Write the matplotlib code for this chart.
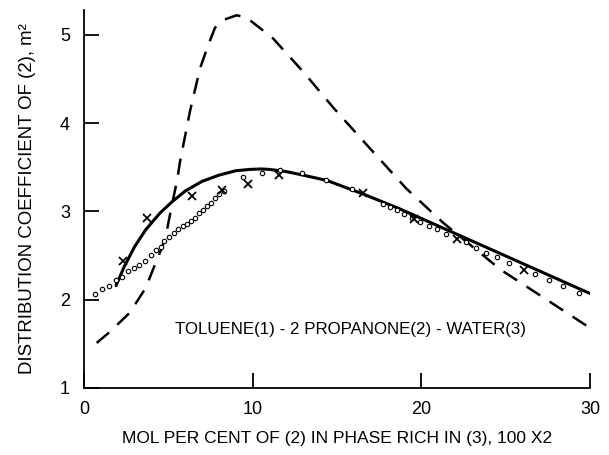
import matplotlib
matplotlib.use("Agg")
import matplotlib.pyplot as plt

# ---- data ----
solid_x = [1.9, 2.4, 3.0, 3.65, 4.5, 5.23, 6.0, 7.0, 8.0, 9.0, 9.84, 10.5, 11.0, 12.0, 13.0, 14.4, 16.5, 18.7, 20.0, 22.0, 24.0, 26.0, 28.0, 30.0]
solid_y = [2.16, 2.38, 2.60, 2.79, 2.98, 3.11, 3.23, 3.34, 3.41, 3.46, 3.475, 3.48, 3.475, 3.45, 3.41, 3.35, 3.20, 3.03, 2.92, 2.75, 2.58, 2.41, 2.24, 2.07]

dash_x = [0.75, 1.5, 2.7, 3.65, 4.15, 4.64, 4.94, 5.23, 5.53, 5.69, 6.28, 6.88, 7.4, 7.77, 8.3, 9.05, 9.6, 10.2, 11.2, 13.0, 14.8, 16.4, 19.1, 21.3, 24.7, 30.0]
dash_y = [1.51, 1.63, 1.85, 2.13, 2.37, 2.60, 2.81, 3.09, 3.36, 3.56, 4.13, 4.62, 4.90, 5.08, 5.17, 5.22, 5.20, 5.11, 4.96, 4.58, 4.17, 3.83, 3.26, 2.87, 2.34, 1.68]

circ_x = [0.63, 1.09, 1.48, 1.92, 2.23, 2.63, 2.96, 3.28, 3.62, 3.95, 4.27, 4.55, 4.74, 5.06, 5.34, 5.59, 5.85, 6.08, 6.32, 6.58, 6.84, 7.07, 7.31, 7.51, 7.77, 8.02, 8.30,
          9.45, 10.53, 11.62, 12.9, 14.35, 15.87, 17.75, 18.14, 18.53, 18.97, 19.42, 19.92, 20.45, 20.95, 21.46,
          22.62, 23.23, 23.86, 24.51, 25.2, 26.73, 27.58, 28.42, 29.37]
circ_y = [2.06, 2.12, 2.15, 2.22, 2.26, 2.33, 2.36, 2.39, 2.44, 2.51, 2.56, 2.60, 2.66, 2.71, 2.75, 2.80, 2.83, 2.86, 2.89, 2.93, 2.98, 3.02, 3.06, 3.10, 3.15, 3.20, 3.23,
          3.39, 3.44, 3.47, 3.43, 3.36, 3.25, 3.08, 3.05, 3.02, 2.97, 2.92, 2.88, 2.83, 2.80, 2.74,
          2.65, 2.59, 2.53, 2.48, 2.41, 2.29, 2.22, 2.16, 2.08]

cross_x = [2.33, 3.75, 6.38, 8.16, 9.74, 11.55, 16.56, 19.56, 22.09, 26.08]
cross_y = [2.44, 2.93, 3.17, 3.24, 3.31, 3.41, 3.21, 2.91, 2.69, 2.34]

x_ticks = [0, 10, 20, 30]
y_ticks = [1, 2, 3, 4, 5]

FONT = ['Liberation Sans Narrow', 'Liberation Sans', 'DejaVu Sans']
plt.rcParams['font.family'] = FONT

fig = plt.figure(figsize=(6.09, 4.55), dpi=100)
ax = fig.add_axes([84/609, 67/455, (590-84)/609, (388-10)/455])

ax.plot(dash_x, dash_y, color='black', lw=1.8, ls=(0, (6.5, 4.5)))
ax.plot(solid_x, solid_y, color='black', lw=2.2, solid_capstyle='round')
ax.plot(circ_x, circ_y, ls='none', marker='o', ms=3.2, mfc='white', mec='black', mew=0.8)
ax.plot(cross_x, cross_y, ls='none', marker='x', ms=5.5, color='black', mew=1.3)

ax.set_xlim(0, 30)
ax.set_ylim(1, 5.28)
ax.set_xticks(x_ticks)
ax.set_yticks(y_ticks)
ax.spines['top'].set_visible(False)
ax.spines['right'].set_visible(False)
for s in ('left', 'bottom'):
    ax.spines[s].set_linewidth(1.3)
ax.tick_params(direction='in', length=11, width=1.3, labelsize=13)
ax.tick_params(axis='x', pad=9)
ax.tick_params(axis='y', pad=10)

ax.text(15.8, 1.66, 'TOLUENE(1) - 2 PROPANONE(2) - WATER(3)', fontsize=12.2,
        ha='center', va='center')
ax.set_xlabel('MOL PER CENT OF (2) IN PHASE RICH IN (3), 100 X2', fontsize=12.5, labelpad=10)
ax.set_ylabel('DISTRIBUTION COEFFICIENT OF (2), m²', fontsize=13.4, labelpad=17)

fig.savefig('out.png', dpi=100)
